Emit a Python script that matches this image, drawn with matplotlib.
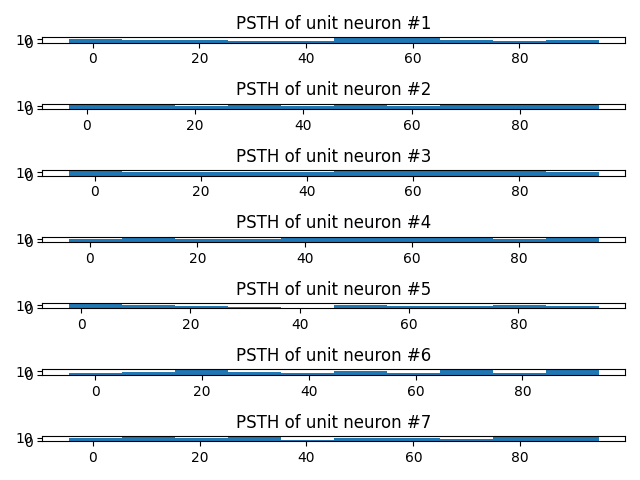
import numpy as np
import matplotlib
matplotlib.use('Agg')
import matplotlib.pyplot as plt

# first / last spike time per unit (ms) and spike counts in 10 bins
t_first = [0.47, 1.6, 0.1, 1.0, 2.6, 0.05, 0.5]
t_last = [99.8, 99.4, 99.9, 99.7, 99.5, 99.2, 99.6]
counts = [
    [12, 9, 9, 6, 6, 15, 15, 9, 6, 9],
    [15, 15, 10, 15, 10, 15, 10, 12, 12, 15],
    [15, 10, 10, 10, 10, 15, 15, 15, 15, 10],
    [10, 15, 8, 8, 11, 15, 15, 15, 9, 15],
    [15, 11, 8, 5, 1, 11, 7, 7, 11, 8],
    [4, 7, 15, 8, 5, 10, 6, 15, 6, 15],
    [10, 14, 10, 14, 4, 10, 10, 6, 14, 14],
]

fig, axes = plt.subplots(len(counts), 1, figsize=(6.4, 4.8), dpi=100)
for i, ax in enumerate(axes):
    edges = np.linspace(t_first[i], t_last[i], len(counts[i]) + 1)
    width = edges[1] - edges[0]
    ax.bar(edges[:-1], counts[i], width=width)
    ax.set_title('PSTH of unit neuron #%d' % (i + 1))

plt.tight_layout()
plt.savefig('out.png')
